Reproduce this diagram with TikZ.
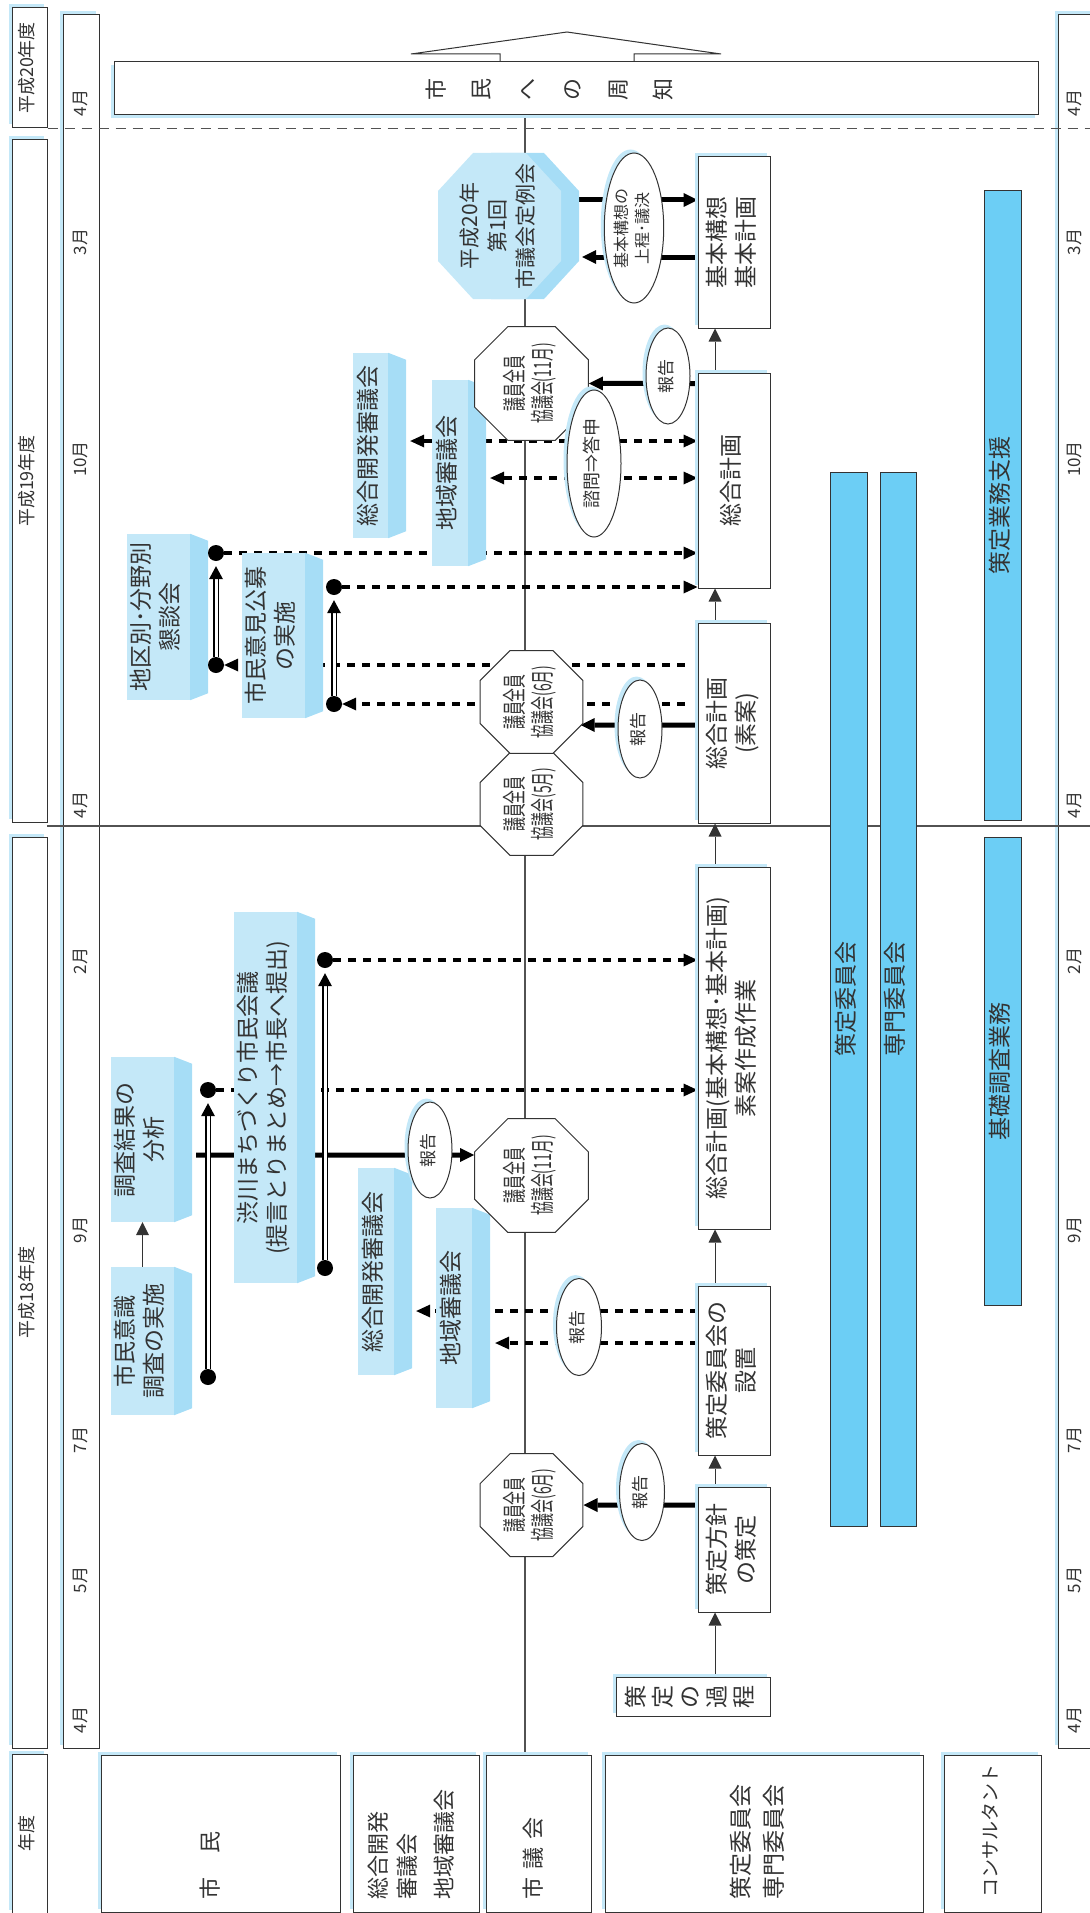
\documentclass[tikz,border=0pt]{standalone}
\usepackage{fontspec}
\setmainfont{Noto Sans CJK JP}
\usetikzlibrary{arrows.meta,calc,shapes.geometric,shadows}

\definecolor{ink}{HTML}{333333}
\definecolor{shblue}{HTML}{C4E8F8}
\definecolor{bfront}{HTML}{C4E8F8}
\definecolor{bside}{HTML}{A6DDF6}
\definecolor{barblue}{HTML}{6CCEF5}

\pgfdeclarelayer{back}
\pgfdeclarelayer{lines}
\pgfsetlayers{back,lines,main}

\newcommand\szbig{\fontsize{23}{29}\selectfont}
\newcommand\szmon{\fontsize{17}{20}\selectfont}
\newcommand\szyr{\fontsize{18}{22}\selectfont}
\newcommand\szell{\fontsize{17}{22}\selectfont}
\newcommand\szoct{\fontsize{24}{28}\selectfont}

\newcommand\rt[1]{\rotatebox{90}{\begin{tabular}{@{}c@{}}#1\end{tabular}}}
\newcommand\rtl[1]{\rotatebox{90}{\begin{tabular}{@{}l@{}}#1\end{tabular}}}
\newcommand\octtext[1]{\rotatebox{90}{\scalebox{0.58}[1]{\begin{tabular}{@{}c@{}}#1\end{tabular}}}}
\newcommand\sideface[1]{\fill[bside] (#1.north east) -- ++(18,7) -- ($(#1.south east)+(18,-7)$) -- (#1.south east) -- cycle;}

\begin{document}
\begin{tikzpicture}[x=1pt, y=-1pt,
    every node/.style={inner sep=0pt, text=ink},
    shad/.style={general shadow={fill=shblue, draw=none, shadow xshift=-3.5pt, shadow yshift=3.5pt}},
    shaddl/.style={general shadow={fill=shblue, draw=none, shadow xshift=-3.5pt, shadow yshift=-3.5pt}},
    plain/.style={draw=ink, fill=white, line width=1pt, font=\szbig},
    box/.style={plain, shad},
    blk/.style={fill=bfront, font=\szbig},
    bar/.style={draw=ink, fill=barblue, line width=1pt, font=\szbig},
    octa/.style={regular polygon, regular polygon sides=8, minimum size=110, draw=ink, fill=white, line width=1pt, font=\szoct},
    ell/.style={ellipse, draw=ink, fill=white, line width=1pt, shad, font=\szell},
    dot/.style={circle, fill=black, minimum size=16},
    thinarr/.style={draw=ink, line width=1pt, -{Triangle[length=13pt,width=13pt,line width=0pt]}},
    thickarr/.style={draw=black, line width=5pt, -{Triangle[length=14pt,width=14pt,line width=0pt]}},
    dasharr/.style={draw=black, line width=4pt, dash pattern=on 8pt off 7pt, >={Triangle[length=14pt,width=13pt,line width=0pt]}, ->},
    dblarr/.style={draw=black, line width=1.3pt, double=white, double distance=3pt, -{Triangle[length=13pt,width=14pt,line width=0pt]}, shorten >=5pt},
    divline/.style={draw=ink!85, line width=1.2pt}]
  \useasboundingbox (0,0) rectangle (1089,1913);

  % year and month columns
  \begin{pgfonlayer}{back}
    \node[box, font=\szyr, minimum width=35, minimum height=120] (h20) at (29.5,68) {\rt{平成20年度}};
    \node[box, font=\szyr, minimum width=35, minimum height=682] (h19) at (29.5,481) {\rt{平成19年度}};
    \node[box, font=\szyr, minimum width=35, minimum height=911] (h18) at (29.5,1292.5) {\rt{平成18年度}};
    \node[box, font=\szyr, minimum width=35, minimum height=159] (nendo) at (29.5,1833.5) {\rt{年度}};
    \node[box, minimum width=36, minimum height=1733] (monl) at (81,881.5) {};
    \node[box, minimum width=42, minimum height=1733] (monr) at (1079,881.5) {};
  \end{pgfonlayer}
  \foreach \m/\yy in {4月/103,3月/242,10月/459,4月/805,2月/961,9月/1230,7月/1440,5月/1580,4月/1720}{
    \node[font=\szmon] (ml\yy) at (82,\yy) {\rt{\m}};
    \node[font=\szmon] (mr\yy) at (1076,\yy) {\rt{\m}};
  }

  % top
  \node[plain, shaddl, minimum width=924, minimum height=53] (shuchi) at (576,88.5) {};
  \node[font=\fontsize{22}{45.5}\selectfont] (shuchitxt) at (549,90) {\rt{市\\民\\へ\\の\\周\\知}};

  % bottom row
  \node[box, minimum width=239, minimum height=157] (shimin) at (220.5,1833.5) {};
  \node[box, minimum width=126, minimum height=157] (shingi) at (416,1833.5) {};
  \node[box, minimum width=105, minimum height=157] (gikai) at (538.5,1833.5) {};
  \node[box, minimum width=318, minimum height=157] (iinkai) at (764,1833.5) {};
  \node[box, minimum width=97, minimum height=157] (consul) at (992.5,1833.5) {};
  \node[anchor=south, font=\fontsize{22}{28}\selectfont] (shimintxt) at (213,1900) {\rt{市\hspace{24pt}民}};
  \node[anchor=south, font=\fontsize{22}{29}\selectfont] (shingitxt) at (413.5,1900) {\rtl{総合開発\\審議会\\[8pt]地域審議会}};
  \node[anchor=south, font=\fontsize{22}{28}\selectfont] (gikaitxt) at (536,1900) {\rt{市\hspace{8pt}議\hspace{8pt}会}};
  \node[anchor=south, font=\fontsize{23}{33}\selectfont] (iinkaitxt) at (759.5,1900) {\rtl{策定委員会\\専門委員会}};
  \node[anchor=south, font=\fontsize{19}{24}\selectfont] (consultxt) at (993,1898) {\rt{コンサルタント}};

  % planning steps
  \node[box, minimum width=72, minimum height=171] (kihon) at (734,242.5) {\rt{基本構想\\基本計画}};
  \node[box, minimum width=72, minimum height=215] (keikaku) at (734,480.5) {\rt{総合計画}};
  \node[box, minimum width=72, minimum height=200] (soan) at (734,723) {\rt{総合計画\\(素案)}};
  \node[box, minimum width=72, minimum height=362] (sakusei) at (734,1048) {\rt{総合計画(基本構想･基本計画)\\素案作成作業}};
  \node[box, minimum width=72, minimum height=169] (setchi) at (734,1370.5) {\rt{策定委員会の\\設置}};
  \node[box, minimum width=72, minimum height=125] (houshin) at (734,1549.5) {\rt{策定方針\\の策定}};
  \node[box, font=\fontsize{23}{27}\selectfont, minimum width=154, minimum height=39] (katei) at (693,1696.5) {\rt{策\\定\\の\\過\\程}};

  % citizens and councils
  \node[blk, minimum width=63, minimum height=148] (ishiki) at (142.5,1341) {\rt{市民意識\\調査の実施}};
  \node[blk, minimum width=63, minimum height=165] (bunseki) at (142.5,1139.5) {\rt{調査結果の\\分析}};
  \node[blk, minimum width=63, minimum height=371] (kaigi) at (265.5,1097.5) {\rt{渋川まちづくり市民会議\\(提言とりまとめ→市長へ提出)}};
  \node[blk, minimum width=63, minimum height=166] (kondan) at (158.5,617) {\rt{地区別･分野別\\懇談会}};
  \node[blk, minimum width=63, minimum height=165] (kobo) at (273.5,635.5) {\rt{市民意見公募\\の実施}};
  \node[blk, minimum width=35, minimum height=185] (kaihatsu19) at (370.5,445.5) {\rt{総合開発審議会}};
  \node[blk, minimum width=36, minimum height=186] (chiiki19) at (450,473) {\rt{地域審議会}};
  \node[blk, minimum width=36, minimum height=207] (kaihatsu18) at (376,1271.5) {\rt{総合開発審議会}};
  \node[blk, minimum width=36, minimum height=200] (chiiki18) at (454,1308) {\rt{地域審議会}};
  \foreach \b in {ishiki,bunseki,kaigi,kondan,kobo,kaihatsu19,chiiki19,kaihatsu18,chiiki18}
    {\sideface{\b}}

  % city council
  \node[octa] (kyo6a) at (531.5,1505) {\octtext{議員全員\\協議会(6月)}};
  \node[octa] (kyo11a) at (531.5,1175.5) {\octtext{議員全員\\協議会(11月)}};
  \node[octa] (kyo5) at (531.5,804) {\octtext{議員全員\\協議会(5月)}};
  \node[octa] (kyo6b) at (531.5,702) {\octtext{議員全員\\協議会(6月)}};
  \node[octa] (kyo11b) at (531.5,383.5) {\octtext{議員全員\\協議会(11月)}};
  \coordinate (tc) at (499.5,226);
  \foreach \col/\dd in {bside/18,bfront/0}
    {\fill[\col, shift={(tc)}, xshift=\dd] (-26.5,-73) -- (26.5,-73) -- (61.5,-35) -- (61.5,35) -- (26.5,73) -- (-26.5,73) -- (-61.5,35) -- (-61.5,-35) -- cycle;}
  \node[font=\fontsize{21}{28}\selectfont, minimum width=123, minimum height=146] (teirei) at (tc) {\rt{平成20年\\第1回\\市議会定例会}};

  % reports
  \node[ell, minimum width=45, minimum height=97] (hk1) at (642,1492) {\rt{報告}};
  \node[ell, minimum width=45, minimum height=97] (hk2) at (579,1327) {\rt{報告}};
  \node[ell, minimum width=44, minimum height=96] (hk3) at (430,1150) {\rt{報告}};
  \node[ell, minimum width=44, minimum height=98] (hk4) at (640,729) {\rt{報告}};
  \node[ell, minimum width=44, minimum height=96] (hk5) at (668,376) {\rt{報告}};
  \node[ell, font=\fontsize{18}{22}\selectfont, minimum width=54, minimum height=147] (shimon) at (594,463.5) {\rt{諮問⇒答申}};
  \node[ell, font=\fontsize{16}{21}\selectfont, minimum width=56, minimum height=150] (jotei) at (634,228) {\rt{基本構想の\\上程･議決}};

  % support bars
  \node[bar, minimum width=37, minimum height=1054] (sakuteibar) at (848.5,999) {\rt{策定委員会}};
  \node[bar, minimum width=36, minimum height=1054] (senmonbar) at (898,999) {\rt{専門委員会}};
  \node[bar, minimum width=37, minimum height=629] (shienbar) at (1002.5,505.5) {\rt{策定業務支援}};
  \node[bar, minimum width=37, minimum height=468] (kisobar) at (1002.5,1071) {\rt{基礎調査業務}};

  % dots
  \node[dot] (d1a) at (208,1377) {};
  \node[dot] (d1b) at (208,1090) {};
  \node[dot] (d2a) at (325,1268) {};
  \node[dot] (d2b) at (325,960) {};
  \node[dot] (d3a) at (216,665) {};
  \node[dot] (d3b) at (216,553) {};
  \node[dot] (d4a) at (334,704) {};
  \node[dot] (d4b) at (334,587) {};

  \begin{pgfonlayer}{lines}
    \draw[divline, dash pattern=on 10pt off 7pt] (h20.south east) -- ++(1050,0);
    \draw[divline] (47,826) -- (1095,826);
    \coordinate (ax) at (525,0);
    \draw[divline] (shuchi.south -| ax) -- (gikai.north -| ax);
    \coordinate (roof) at (567,62);
    \draw[draw=ink, line width=1pt, fill=white, shift={(roof)}] (-67,0) -- (-67,-8) -- (-156,-8) -- (0,-30) -- (154,-8) -- (67,-8) -- (67,0);

    \coordinate (ax2) at (715,0);
    \foreach \a/\b in {katei/houshin,houshin/setchi,setchi/sakusei,sakusei/soan,soan/keikaku,keikaku/kihon}
      {\draw[thinarr] (\a.north -| ax2) -- (\b.south -| ax2);}
    \draw[thinarr] (ishiki.north) -- (bunseki.south);

    \draw[thickarr] (houshin.west |- kyo6a) -- (kyo6a.east);
    \draw[thickarr] ($(bunseki.east)+(22,15.5)$) -- ($(kyo11a.west)+(0,-20.5)$);
    \draw[thickarr] ($(soan.west)+(0,2)$) -- ($(kyo6b.east)+(-3,23)$);
    \draw[thickarr] (keikaku.west |- kyo11b) -- (kyo11b.east);
    \draw[thickarr] ($(teirei.east)+(18,-26)$) -- ($(kihon.west)+(0,-42.5)$);
    \draw[thickarr] ($(kihon.west)+(0,14.5)$) -- ($(teirei.east)+(21,31)$);

    \draw[dasharr] (d1b) -- (d1b -| sakusei.west);
    \draw[dasharr] (d2b) -- (d2b -| sakusei.west);
    \draw[dasharr] ($(setchi.west)+(0,-59.5)$) -- ($(kaihatsu18.east)+(22,39.5)$);
    \draw[dasharr] ($(setchi.west)+(0,-27.5)$) -- ($(chiiki18.east)+(23,35)$);
    \draw[dasharr, shorten <=13pt] (d3a -| soan.west) -- (d3a);
    \draw[dasharr, shorten <=13pt] (d4a -| soan.west) -- (d4a);
    \draw[dasharr] (d3b) -- (d3b -| keikaku.west);
    \draw[dasharr] (d4b) -- (d4b -| keikaku.west);
    \coordinate (kh19) at ($(kaihatsu19.east)+(22,-4.5)$);
    \coordinate (ch19) at ($(chiiki19.east)+(22,5)$);
    \draw[dasharr, <->] (kh19) -- (kh19 -| keikaku.west);
    \draw[dasharr, <->] (ch19) -- (ch19 -| keikaku.west);

    \draw[dblarr] (d1a) -- (d1b);
    \draw[dblarr] (d2a) -- (d2b);
    \draw[dblarr] (d3a) -- (d3b);
    \draw[dblarr] (d4a) -- (d4b);
  \end{pgfonlayer}
\end{tikzpicture}
\end{document}
